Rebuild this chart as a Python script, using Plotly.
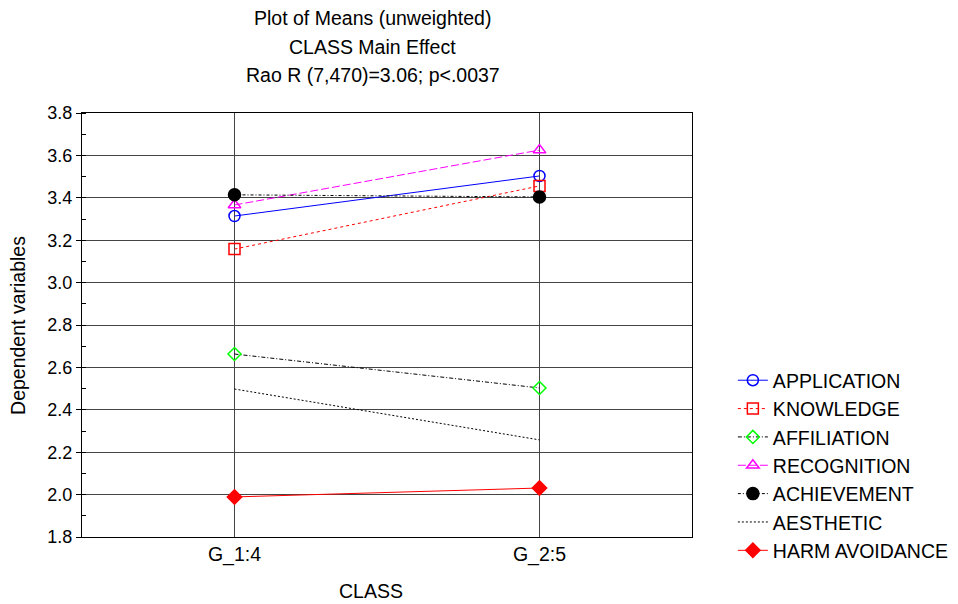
import plotly.graph_objects as go

categories = ["G_1:4", "G_2:5"]
series_names = ["APPLICATION", "KNOWLEDGE", "AFFILIATION", "RECOGNITION",
                "ACHIEVEMENT", "AESTHETIC", "HARM AVOIDANCE"]
application = [3.314, 3.503]
knowledge = [3.158, 3.456]
affiliation = [2.663, 2.503]
recognition = [3.366, 3.625]
achievement = [3.414, 3.404]
aesthetic = [2.498, 2.258]
harm_avoidance = [1.989, 2.031]

values = [application, knowledge, affiliation, recognition,
          achievement, aesthetic, harm_avoidance]
line_colors = ["#0000ff", "#ff0000", "#000000", "#ff00ff", "#000000", "#000000", "#ff0000"]
marker_colors = ["#0000ff", "#ff0000", "#00ff00", "#ff00ff", "#000000", "#000000", "#ff0000"]
symbols = ["circle-open", "square-open", "diamond-open", "triangle-up-open",
           "circle", None, "diamond"]
dashes = ["solid", "dot", "4px,2px,1px,2px", "8px,3px", "3px,2px,1px,2px", "2px,2px", "solid"]
sizes = [11, 11, 10, 11, 12, 0, 11]

fig = go.Figure()
for i, name in enumerate(series_names):
    mode = "lines+markers" if symbols[i] else "lines"
    fig.add_trace(go.Scatter(
        x=categories, y=values[i], name=name, mode=mode,
        legendgroup=name,
        line=dict(color=line_colors[i], width=1, dash=dashes[i]),
        marker=dict(symbol=symbols[i] or "circle", size=sizes[i], color=marker_colors[i],
                    line=dict(color=marker_colors[i], width=1.5)),
    ))

font_family = "Liberation Sans, Arial, sans-serif"
fs = 19.5
titles = ["Plot of Means (unweighted)", "CLASS Main Effect", "Rao R (7,470)=3.06; p<.0037"]
title_y = [1.224, 1.156, 1.090]
annotations = [dict(text=t, x=0.477, y=yy, xref="paper", yref="paper",
                    showarrow=False, xanchor="center", yanchor="middle",
                    font=dict(size=fs, color="black", family=font_family))
               for t, yy in zip(titles, title_y)]
annotations.append(dict(text="Dependent variables", x=-0.105, y=0.5, xref="paper", yref="paper",
                        showarrow=False, textangle=-90, xanchor="center", yanchor="middle",
                        font=dict(size=fs, color="black", family=font_family)))
annotations.append(dict(text="CLASS", x=0.474, y=-0.127, xref="paper", yref="paper",
                        showarrow=False, xanchor="center", yanchor="middle",
                        font=dict(size=fs, color="black", family=font_family)))

fig.update_layout(
    width=958, height=604,
    margin=dict(l=82, r=266, t=113, b=67, autoexpand=False),
    paper_bgcolor="white", plot_bgcolor="white",
    font=dict(family=font_family, size=fs, color="black"),
    showlegend=True,
    legend=dict(x=1.067, xanchor="left", y=0.415, yanchor="top",
                tracegroupgap=0, font=dict(size=fs), bgcolor="rgba(0,0,0,0)"),
    annotations=annotations,
    xaxis=dict(range=[-0.5, 1.5], showgrid=True, gridcolor="#444", gridwidth=1,
               showline=True, linecolor="black", linewidth=1, mirror=True,
               ticks="", zeroline=False, tickfont=dict(size=fs)),
    yaxis=dict(range=[1.8, 3.8], dtick=0.2, tick0=1.8, tickformat=".1f",
               showgrid=True, gridcolor="#444", gridwidth=1,
               showline=True, linecolor="black", linewidth=1, mirror=True,
               ticks="outside", ticklen=5, tickcolor="black", zeroline=False,
               minor=dict(dtick=0.1, ticks="inside", ticklen=4, tickcolor="black", showgrid=False),
               tickfont=dict(size=18)),
)

fig.write_html("out.html")
